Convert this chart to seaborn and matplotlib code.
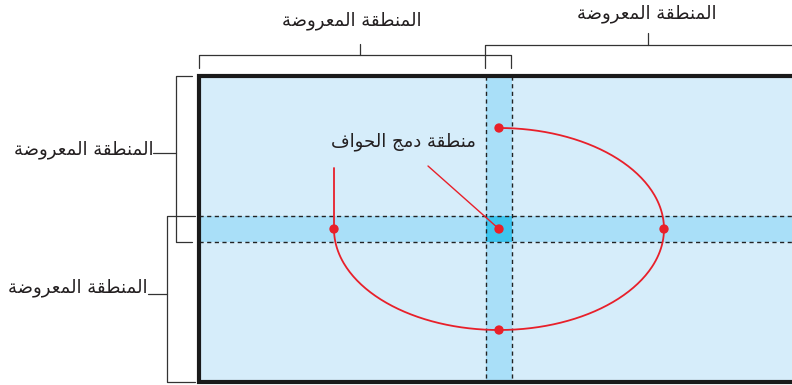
import numpy as np
import matplotlib.pyplot as plt
import seaborn as sns

# labels (logical Arabic order)
label_area = "المنطقة المعروضة"
label_blend = "منطقة دمج الحواف"

# diagram geometry in pixels (x, y down)
screen = [199, 76, 800, 382]          # left, top, right, bottom
band_x = [486, 512]                    # vertical overlap band
band_y = [216, 242]                    # horizontal overlap band
ellipse_center = (499, 229)
ellipse_radii = (165, 101)
dots_x = [499, 334, 664, 499, 499]
dots_y = [128, 229, 229, 330, 229]

fill_light = "#d6edfa"
fill_band = "#a9dff8"
fill_overlap = "#3ec4ee"
red = "#e8202a"

# Arabic presentation forms: (isolated, final, initial, medial)
FORMS = {
    'ا': (0xFE8D, 0xFE8E), 'ة': (0xFE93, 0xFE94), 'د': (0xFEA9, 0xFEAA),
    'ر': (0xFEAD, 0xFEAE), 'و': (0xFEED, 0xFEEE),
    'ج': (0xFE9D, 0xFE9E, 0xFE9F, 0xFEA0), 'ح': (0xFEA1, 0xFEA2, 0xFEA3, 0xFEA4),
    'ض': (0xFEBD, 0xFEBE, 0xFEBF, 0xFEC0), 'ط': (0xFEC1, 0xFEC2, 0xFEC3, 0xFEC4),
    'ع': (0xFEC9, 0xFECA, 0xFECB, 0xFECC), 'ف': (0xFED1, 0xFED2, 0xFED3, 0xFED4),
    'ق': (0xFED5, 0xFED6, 0xFED7, 0xFED8), 'ل': (0xFEDD, 0xFEDE, 0xFEDF, 0xFEE0),
    'م': (0xFEE1, 0xFEE2, 0xFEE3, 0xFEE4), 'ن': (0xFEE5, 0xFEE6, 0xFEE7, 0xFEE8),
}


def shape(text):
    # matplotlib has no Arabic shaping, so pick joined forms and reverse
    out = []
    for i, ch in enumerate(text):
        if ch not in FORMS:
            out.append(ch)
            continue
        prev = text[i - 1] if i > 0 else ' '
        nxt = text[i + 1] if i + 1 < len(text) else ' '
        joins_prev = prev in FORMS and len(FORMS[prev]) == 4
        joins_next = len(FORMS[ch]) == 4 and nxt in FORMS
        if joins_prev and joins_next:
            idx = 3
        elif joins_prev:
            idx = 1
        elif joins_next:
            idx = 2
        else:
            idx = 0
        out.append(chr(FORMS[ch][idx]))
    return ''.join(reversed(out))


sns.set_style("white")
plt.rcParams['font.family'] = ['DejaVu Sans']

fig = plt.figure(figsize=(7.92, 3.85), dpi=100)
ax = fig.add_axes([0, 0, 1, 1])
ax.set_xlim(0, 792)
ax.set_ylim(385, 0)
ax.axis('off')

l, t, r, b = screen
ax.fill_between([l, r], t, b, color=fill_light, lw=0)
ax.fill_between(band_x, t, b, color=fill_band, lw=0)
ax.fill_between([l, r], band_y[0], band_y[1], color=fill_band, lw=0)
ax.fill_between(band_x, band_y[0], band_y[1], color=fill_overlap, lw=0)
for x in band_x:
    ax.plot([x, x], [t, b], color="#222222", lw=1, ls=(0, (3, 2.5)))
for y in band_y:
    ax.plot([l, r], [y, y], color="#222222", lw=1, ls=(0, (3, 2.5)))
ax.plot([r, l, l, r], [t, t, b, b], color="#1a1a1a", lw=3, solid_joinstyle='miter')

# brackets
bk = dict(color="#333333", lw=0.9)
ax.plot([199, 199, 511, 511], [68, 55, 55, 68], **bk)
ax.plot([360, 360], [44, 55], **bk)
ax.plot([485, 485, 800], [68, 45, 45], **bk)
ax.plot([648, 648], [33, 45], **bk)
ax.plot([192, 176, 176, 192], [76, 76, 242, 242], **bk)
ax.plot([153, 176], [153, 153], **bk)
ax.plot([195, 167, 167, 195], [216, 216, 382, 382], **bk)
ax.plot([148, 167], [294, 294], **bk)

txt = dict(fontsize=13, color="#231f20")
ax.text(352, 21, shape(label_area), ha='center', va='center', **txt)
ax.text(647, 14, shape(label_area), ha='center', va='center', **txt)
ax.text(153, 150, shape(label_area), ha='right', va='center', **txt)
ax.text(148, 288, shape(label_area), ha='right', va='center', **txt)
ax.text(403, 142, shape(label_blend), ha='center', va='center', **txt)

# red ellipse arc and leader lines
cx, cy = ellipse_center
rx, ry = ellipse_radii
th = np.radians(np.linspace(90, -180, 300))
ax.plot(cx + rx * np.cos(th), cy - ry * np.sin(th), color=red, lw=1.3)
ax.plot([334, 334], [168, 229], color=red, lw=1.3)
ax.plot([428, 499], [166, 229], color=red, lw=1)
sns.scatterplot(x=dots_x, y=dots_y, color=red, s=45, edgecolor='none', ax=ax, zorder=5)

fig.savefig("out.png", dpi=100)
